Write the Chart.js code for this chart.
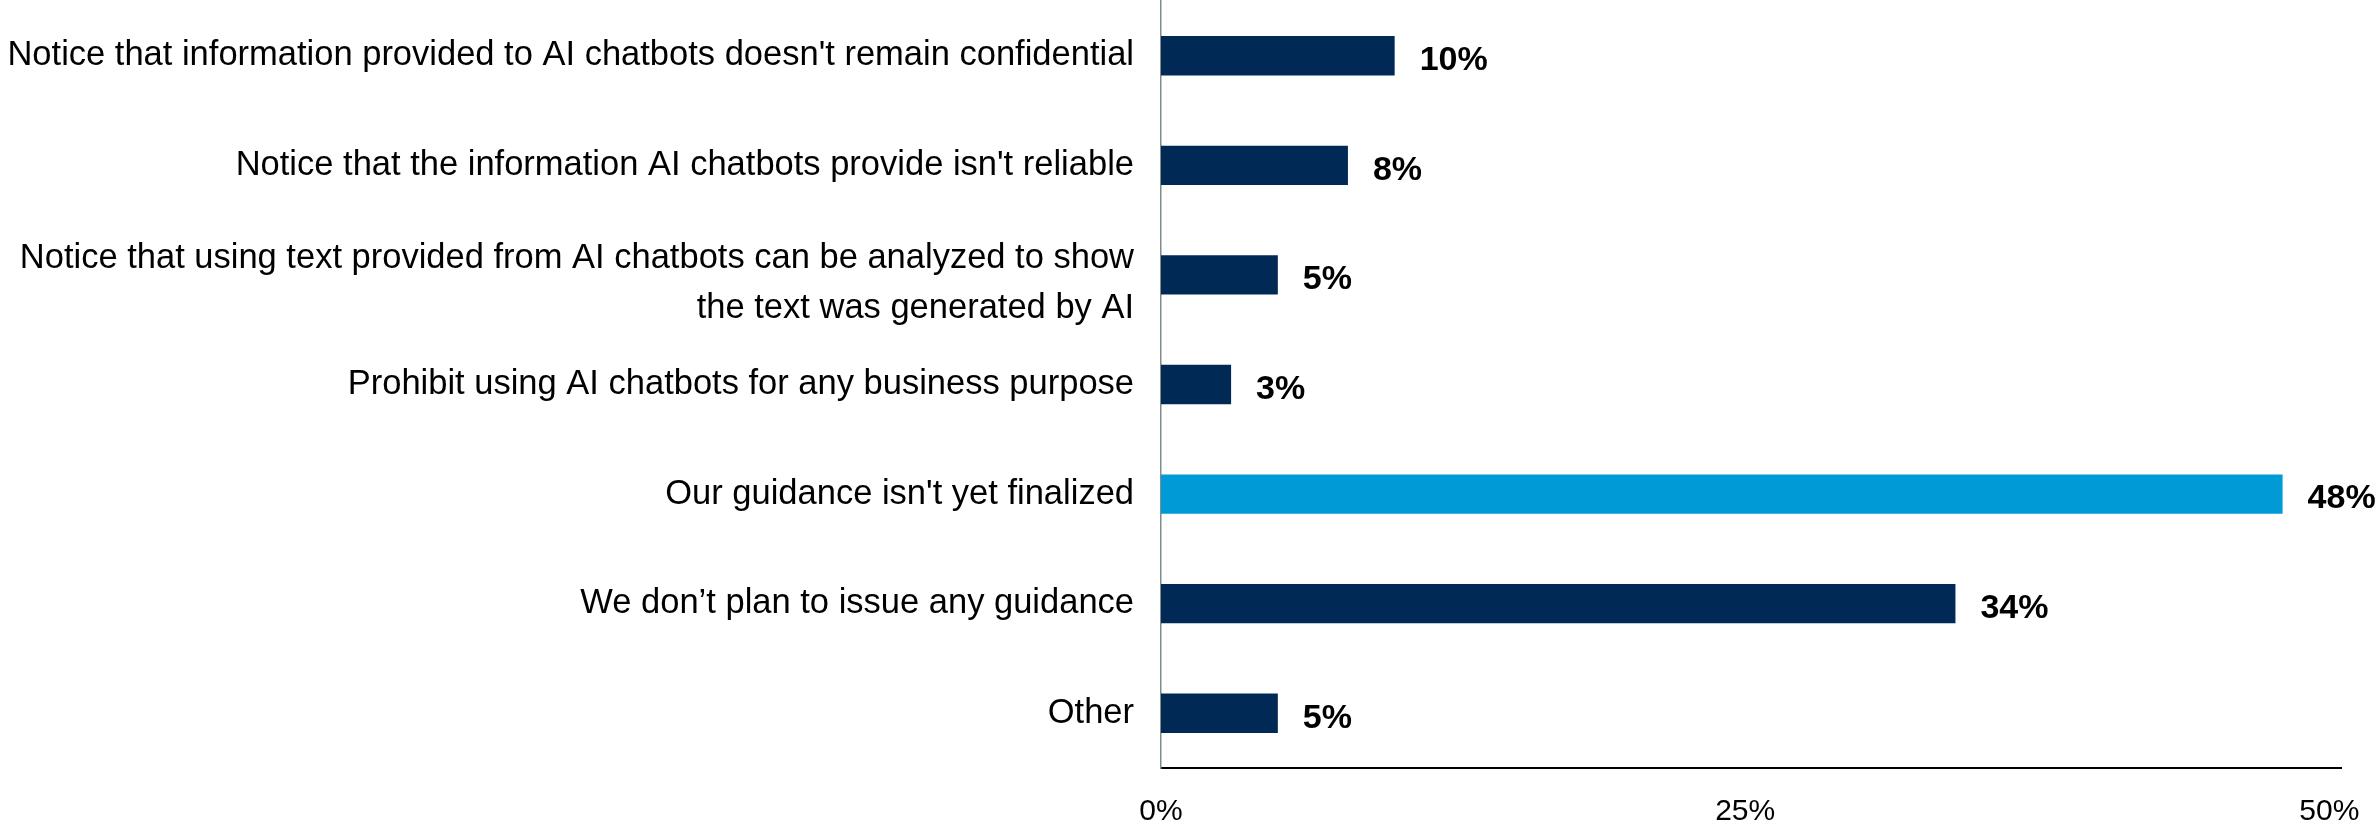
<!DOCTYPE html>
<html>
<head>
<meta charset="utf-8">
<title>AI chatbot guidance</title>
<script src="https://cdn.jsdelivr.net/npm/chart.js@4/dist/chart.umd.min.js"></script>
<style>
  html, body { margin: 0; padding: 0; background: #ffffff; }
  #wrap { width: 2377px; height: 825px; position: relative; }
</style>
</head>
<body>
<div id="wrap"><canvas id="chart" width="2377" height="825"></canvas></div>
<script>
// Survey answers (share of respondents, %)
const categories = [
  "Notice that information provided to AI chatbots doesn't remain confidential",
  "Notice that the information AI chatbots provide isn't reliable",
  ["Notice that using text provided from AI chatbots can be analyzed to show", "the text was generated by AI"],
  "Prohibit using AI chatbots for any business purpose",
  "Our guidance isn't yet finalized",
  "We don\u2019t plan to issue any guidance",
  "Other"
];
const shares = [10, 8, 5, 3, 48, 34, 5];
const highlighted = [false, false, false, false, true, false, false];
const tickValues = [0, 25, 50];

const NAVY = '#002955';
const CYAN = '#009BD7';
const FONT = '"Liberation Sans", Arial, Helvetica, sans-serif';

// Percentage labels printed just past the end of each bar
const valueLabels = {
  id: 'valueLabels',
  afterDatasetsDraw(chart) {
    const { ctx } = chart;
    const meta = chart.getDatasetMeta(0);
    ctx.save();
    ctx.font = 'bold 34px ' + FONT;
    ctx.fillStyle = '#000000';
    ctx.textAlign = 'left';
    ctx.textBaseline = 'middle';
    meta.data.forEach((bar, i) => {
      ctx.fillText(shares[i] + '%', bar.x + 25, bar.y + 5);
    });
    ctx.restore();
  }
};

// Two-line category labels sit a little lower than their bar
const wrappedLabelDrop = {
  id: 'wrappedLabelDrop',
  beforeDraw(chart) {
    const scale = chart.scales.y;
    const items = scale.getLabelItems(chart.chartArea);
    items.forEach(item => {
      if (Array.isArray(item.label) && !item._dropped) {
        item.options.translation[1] += 9;
        item._dropped = true;
      }
    });
  }
};

// Keep the plot box fixed: no extra room reserved for overhanging tick labels
function noLabelPadding(scale) {
  scale.paddingTop = 0;
  scale.paddingBottom = 0;
  scale.paddingLeft = 0;
  scale.paddingRight = 0;
}

new Chart(document.getElementById('chart'), {
  type: 'bar',
  data: {
    labels: categories,
    datasets: [{
      data: shares,
      backgroundColor: highlighted.map(h => h ? CYAN : NAVY),
      borderWidth: 0,
      categoryPercentage: 1,
      barPercentage: 0.359
    }]
  },
  options: {
    indexAxis: 'y',
    responsive: false,
    animation: false,
    events: [],
    layout: { padding: { top: 1, right: 36, bottom: 0, left: 0 } },
    plugins: {
      legend: { display: false },
      tooltip: { enabled: false }
    },
    scales: {
      x: {
        min: 0,
        max: 50.5,
        afterBuildTicks(scale) { scale.ticks = tickValues.map(v => ({ value: v })); },
        afterFit(scale) { scale.height = 57; noLabelPadding(scale); },
        grid: { display: false, drawTicks: false },
        border: { display: true, color: '#000000', width: 2 },
        ticks: {
          padding: 26,
          color: '#000000',
          maxRotation: 0,
          font: { family: FONT, size: 30 },
          callback: v => v + '%'
        }
      },
      y: {
        afterFit(scale) { scale.width = 1161; noLabelPadding(scale); },
        grid: { display: false, drawTicks: false },
        border: { display: true, color: '#808b8b', width: 1.5 },
        ticks: {
          autoSkip: false,
          padding: 27,
          color: '#000000',
          font: { family: FONT, size: 34.5, lineHeight: 1.45 }
        }
      }
    }
  },
  plugins: [valueLabels, wrappedLabelDrop]
});
</script>
</body>
</html>
